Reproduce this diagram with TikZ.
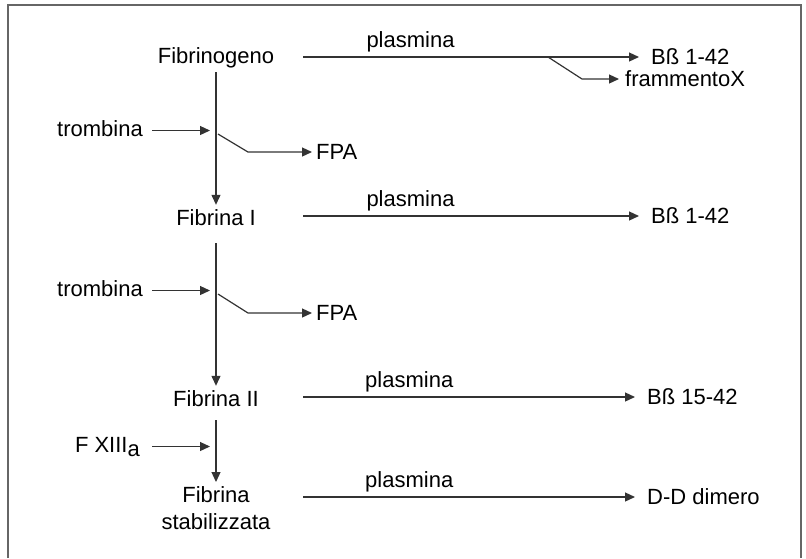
\documentclass[tikz,border=0pt]{standalone}
\usepackage{fontspec}
\setmainfont{Liberation Sans}
\usetikzlibrary{arrows.meta}

\begin{document}
\begin{tikzpicture}[
    x=1pt, y=-1pt,
    every node/.style={font=\fontsize{22}{27}\selectfont, text=black},
    stage/.style={anchor=base, inner xsep=2pt, inner ysep=4pt, text height=16pt, text depth=5pt},
    agent/.style={anchor=base east, inner xsep=9pt, inner ysep=4pt, text height=16pt, text depth=5pt},
    prod/.style={anchor=west, inner xsep=12pt},
    lbl/.style={above, inner ysep=4pt, text depth=5pt},
    flow/.style={line width=1.2pt, draw=black!80, -{Triangle[length=10pt, width=9pt]}},
    frame/.style={line width=1.5pt, draw=black!60},
]
\useasboundingbox (0,0) rectangle (806,558);
\draw[frame] (8,558) |- (801,5) -- (801,558);

% fibrin stages
\node[stage] (fgeno) at (216,63) {Fibrinogeno};
\node[stage] (fib1) at (216,225) {Fibrina I};
\node[stage] (fib2) at (216,406) {Fibrina II};
\node[anchor=north, align=center, inner ysep=4pt] (fibst) at (216,482) {Fibrina\\stabilizzata};

\draw[flow] (fgeno) -- (fib1);
\draw[flow, shorten <=9pt] (fib1) -- (fib2);
\draw[flow, shorten <=5pt] (fib2) -- (fibst);

% enzymes
\node[agent] (tr1) at (152,136) {trombina};
\node[agent] (tr2) at (152,296) {trombina};
\node[agent, inner xsep=12pt] (f13) at (152,452) {F XIII\raisebox{-4pt}{a}};

\draw[flow, shorten >=6pt] (tr1) -- (tr1 -| fgeno);
\draw[flow, shorten >=6pt] (tr2) -- (tr2 -| fib1);
\draw[flow, shorten >=6pt] (f13) -- (f13 -| fib2);

% fibrinopeptide A
\coordinate (j1) at (218,134);
\coordinate (j2) at (218,294);
\node[prod, inner xsep=4pt] (fpa1) at (312,152) {FPA};
\node[prod, inner xsep=4pt] (fpa2) at (312,313) {FPA};
\draw[flow] (j1) -- ++(30,18) -- (fpa1);
\draw[flow] (j2) -- ++(30,19) -- (fpa2);

% plasmin products
\coordinate (s0) at (303,57);
\coordinate (s1) at (303,216);
\coordinate (s2) at (303,397);
\coordinate (s3) at (303,497);
\node[prod, xshift=4pt] (bb0) at (635,57) {Bß 1-42};
\node[prod, xshift=4pt] (bb1) at (635,216) {Bß 1-42};
\node[prod] (bb2) at (635,397) {Bß 15-42};
\node[prod] (dd) at (635,497) {D-D dimero};
\node[prod, inner xsep=6pt] (fx) at (619,79) {frammentoX};

\draw[flow] (s0) -- node[lbl, pos=0.32] {plasmina} (bb0);
\draw[flow] (s1) -- node[lbl, pos=0.32] {plasmina} (bb1);
\draw[flow] (s2) -- node[lbl, pos=0.32] {plasmina} (bb2);
\draw[flow] (s3) -- node[lbl, pos=0.32] {plasmina} (dd);

\coordinate (b0) at (548,57);
\draw[flow] (b0) -- ++(34,22) -- (fx);
\end{tikzpicture}
\end{document}
